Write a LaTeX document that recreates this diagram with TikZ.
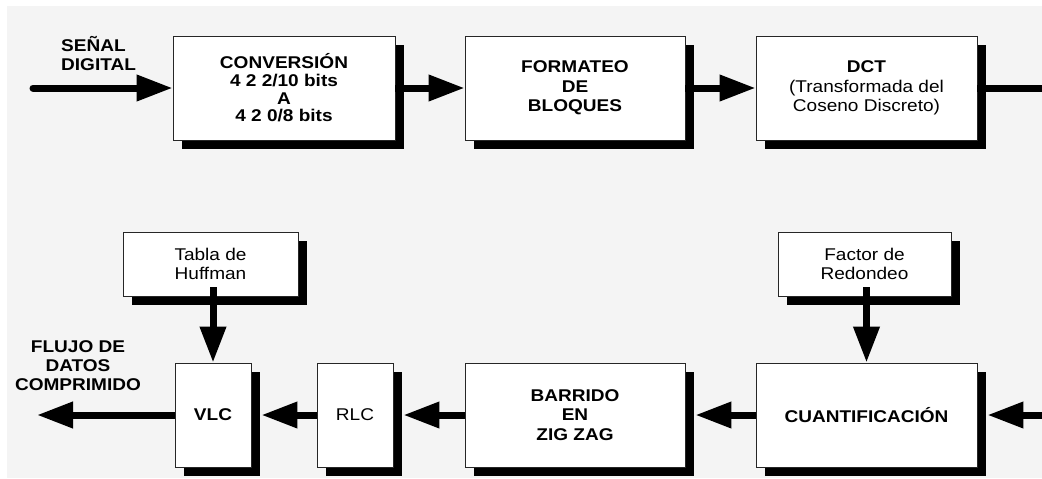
\documentclass[tikz,border=0pt]{standalone}
\usepackage{fontspec}
\setmainfont{Liberation Sans}[FakeStretch=1.12]
\usetikzlibrary{arrows.meta,shadows,calc}
\definecolor{bggray}{HTML}{F4F4F4}
\tikzset{
  box/.style={draw=black!85, line width=0.9pt, fill=white,
    drop shadow={shadow xshift=9pt, shadow yshift=-9pt, fill=black, opacity=1},
    align=center, inner sep=0pt,
    font=\fontsize{17}{19.5}\selectfont\bfseries},
  thin/.style={font=\fontsize{17}{19.5}\selectfont},
  lbl/.style={inner sep=0pt, font=\fontsize{17}{19}\selectfont\bfseries},
  flow/.style={line width=7pt, -{Triangle[length=36pt,width=25pt]}},
  plain/.style={line width=7pt}
}
\begin{document}
\begin{tikzpicture}[x=1pt,y=-1pt]
\useasboundingbox (0,0) rectangle (1042,479);
\fill[white] (0,0) rectangle (1042,479);
\fill[bggray] (7,6) rectangle (1042,478);

% top row
\node[box, minimum width=222pt, minimum height=104pt, font=\fontsize{17}{17.7}\selectfont\bfseries] (conv) at (284,88) {CONVERSIÓN\\4 2 2/10 bits\\A\\4 2 0/8 bits};
\node[box, minimum width=220pt, minimum height=104pt] (form) at (575,88) {FORMATEO\\DE\\BLOQUES};
\node[box, minimum width=221pt, minimum height=104pt] (dct) at (866.5,88) {DCT\\{\mdseries (Transformada del}\\{\mdseries Coseno Discreto)}};

% side inputs
\node[box, thin, minimum width=175pt, minimum height=64pt] (tabla) at (210.5,264) {Tabla de\\Huffman};
\node[box, thin, minimum width=173pt, minimum height=64pt] (factor) at (864.5,264) {Factor de\\Redondeo};

% bottom row
\node[box, minimum width=76pt, minimum height=104pt] (vlc) at (213,415) {VLC};
\node[box, thin, minimum width=76pt, minimum height=104pt] (rlc) at (355,415) {RLC};
\node[box, minimum width=220pt, minimum height=104pt] (barr) at (575,415) {BARRIDO\\EN\\ZIG ZAG};
\node[box, minimum width=221pt, minimum height=104pt] (cuant) at (866.5,415) {CUANTIFICACIÓN};

% labels
\node[lbl, align=left, anchor=west] (inlbl) at (61,54) {SEÑAL\\DIGITAL};
\node[lbl, align=center] (outlbl) at (78,366) {FLUJO DE\\DATOS\\COMPRIMIDO};

% free ends
\coordinate (in) at (33,88);
\coordinate (dctout) at (1042,88);
\coordinate (cuantin) at (1042,415);
\coordinate (out) at (37,415);

% connectors
\draw[flow, line cap=round] (in) -- (conv.west);
\draw[flow] (conv.east) -- (form.west);
\draw[flow] (form.east) -- (dct.west);
\draw[plain] (dct.east) -- (dctout);
\draw[flow] (cuantin) -- ($(cuant.east)+(10pt,0)$);
\draw[flow] (cuant.west) -- ($(barr.east)+(10pt,0)$);
\draw[flow] (barr.west) -- ($(rlc.east)+(10pt,0)$);
\draw[flow] (rlc.west) -- ($(vlc.east)+(10pt,0)$);
\draw[flow] (vlc.west) -- (out);
\draw[flow] ($(vlc.north |- tabla.south)+(0,9pt)$) -- (vlc.north);
\draw[flow] ($(cuant.north |- factor.south)+(0,9pt)$) -- (cuant.north);
\end{tikzpicture}
\end{document}
